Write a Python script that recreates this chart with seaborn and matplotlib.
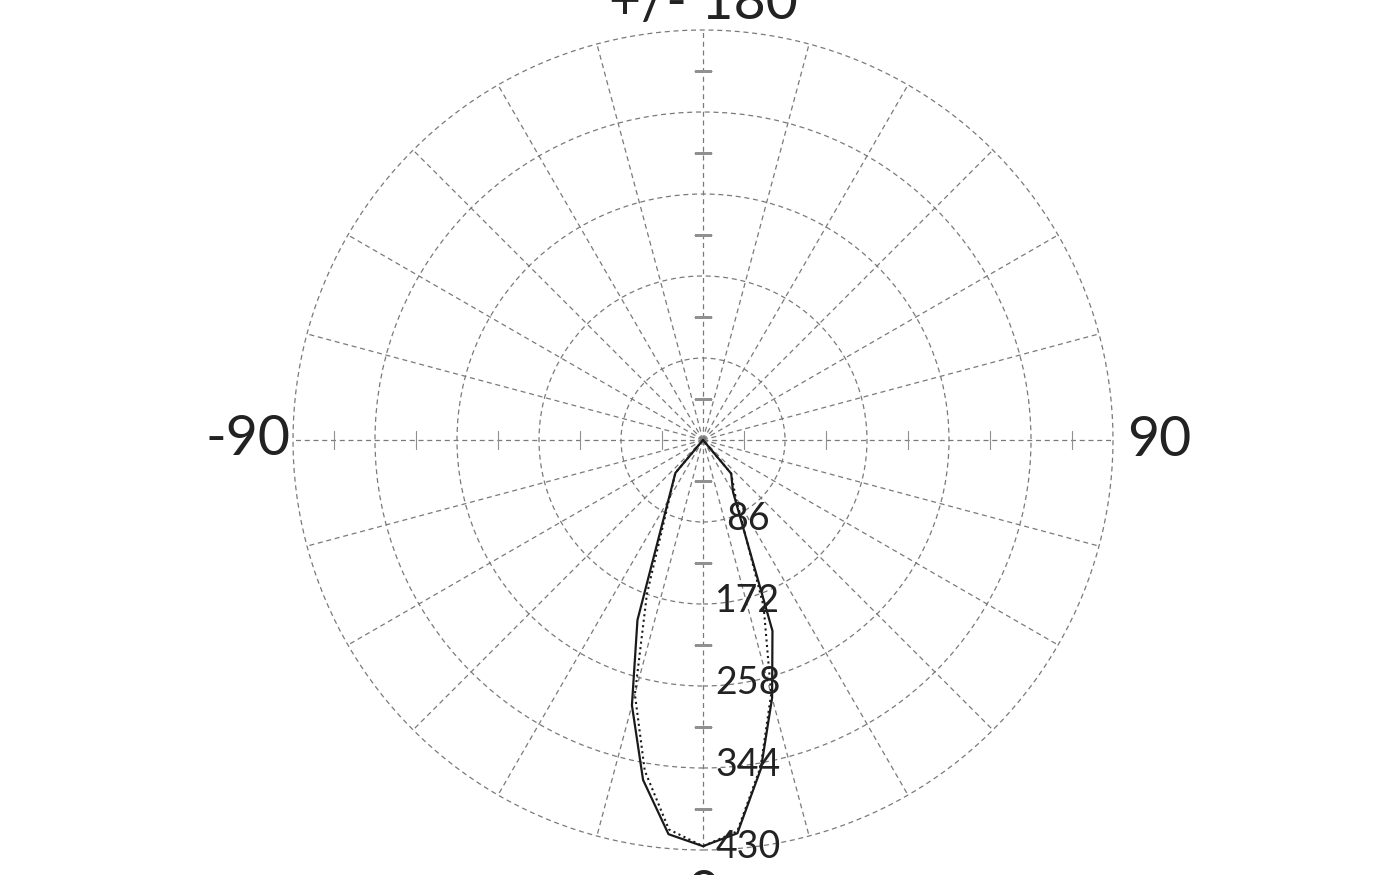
import numpy as np
import pandas as pd
import seaborn as sns
import matplotlib.pyplot as plt

# Lichtstärkeverteilung (cd/klm), Winkel in Grad
angles_solid = [-45, -40, -20, -15, -10, -5, 0, 5, 10, 15, 20, 30, 40, 45]
values_solid = [0, 45, 201, 288, 362, 415, 426, 414, 350, 280, 213, 63, 46, 0]
angles_dotted = [-45, -40, -20, -15, -10, -5, 0, 5, 10, 15, 20, 30, 40, 45]
values_dotted = [0, 45, 172, 276, 352, 410, 426, 412, 348, 276, 186, 68, 46, 0]

ring_values = [86, 172, 258, 344, 430]
ring_labels = ["86", "172", "258", "344", "430"]
dir_angles = [0, 90, 180, -90]
dir_labels = ["0", "90", "+/- 180", "-90"]

sns.set_style("white")
plt.rcParams['font.family'] = ['Lato', 'DejaVu Sans']

grid_color = '#7a7a7a'
dash = (0, (4, 3))

fig = plt.figure(figsize=(14, 8.75), dpi=100)
ax = fig.add_axes([293 / 1400, 25 / 875, 820 / 1400, 820 / 875], projection='polar')
ax.set_theta_zero_location('S')
ax.set_theta_direction(1)

df_solid = pd.DataFrame({'theta': np.deg2rad(angles_solid), 'r': values_solid})
df_dotted = pd.DataFrame({'theta': np.deg2rad(angles_dotted), 'r': values_dotted})
sns.lineplot(data=df_solid, x='theta', y='r', sort=False, estimator=None,
             color='#1a1a1a', linewidth=1.6, ax=ax)
sns.lineplot(data=df_dotted, x='theta', y='r', sort=False, estimator=None,
             color='#1a1a1a', linewidth=1.5, linestyle=':', ax=ax)
ax.set_xlabel('')
ax.set_ylabel('')

# Gitter
ax.set_ylim(0, ring_values[-1])
ax.set_thetagrids(np.arange(0, 360, 15), labels=[])
ax.set_rgrids(ring_values[:-1], labels=[])
ax.grid(True, color=grid_color, linestyle=dash, linewidth=0.9)
ax.spines['polar'].set_visible(False)
circ = np.linspace(0, 2 * np.pi, 400)
ax.plot(circ, np.full_like(circ, ring_values[-1]), color=grid_color,
        linestyle=dash, linewidth=0.9, clip_on=False)

# Zwischenmarken auf den Achsen
mids = [r - ring_values[0] / 2 for r in ring_values]
for a, m in [(0, '_'), (180, '_'), (90, '|'), (-90, '|')]:
    ax.plot([np.deg2rad(a)] * len(mids), mids, linestyle='none', marker=m,
            markersize=13, markeredgewidth=0.8, color='#909090')

# Beschriftungen
for r, lab in zip(ring_values, ring_labels):
    ax.annotate(lab, xy=(0, r), xytext=(45, 3), textcoords='offset pixels',
                ha='center', va='center', fontsize=27, color='#222222')

dir_radius = [477, 479, 458, 477]
for a, lab, rr in zip(dir_angles, dir_labels, dir_radius):
    ax.text(np.deg2rad(a), rr, lab, ha='center', va='center', fontsize=40,
            color='#222222', clip_on=False)

fig.savefig('out.png', dpi=100)
